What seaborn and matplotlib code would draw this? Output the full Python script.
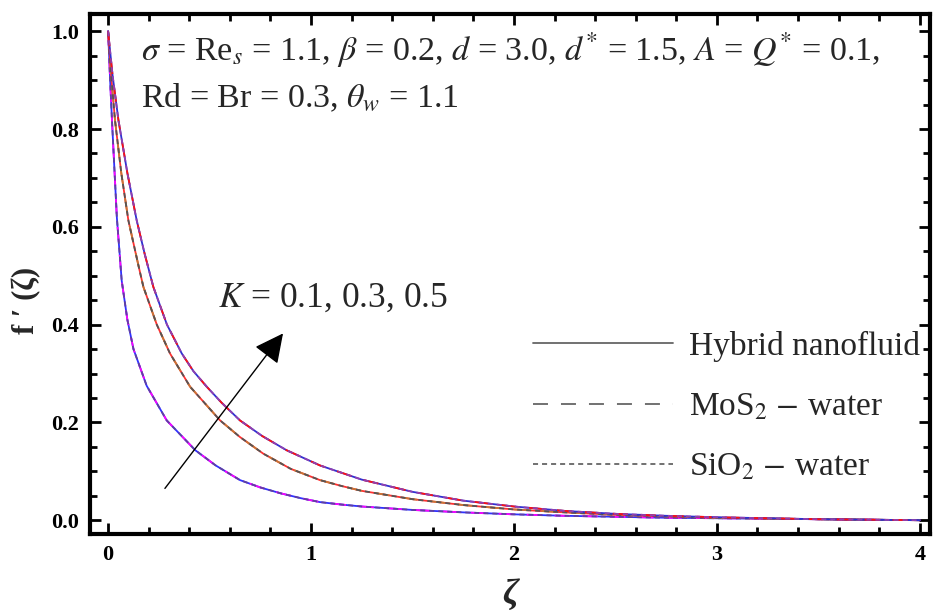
import matplotlib
matplotlib.use("Agg")
import matplotlib.pyplot as plt
from matplotlib.lines import Line2D
from matplotlib.ticker import MultipleLocator, FormatStrFormatter
import seaborn as sns
import pandas as pd

# ---- data ----
zeta_K01 = [0, 0.005, 0.01, 0.02, 0.043, 0.067, 0.095, 0.125, 0.19, 0.289, 0.43, 0.53,
            0.65, 0.75, 0.85, 0.95, 1.044, 1.15, 1.25, 1.5, 1.75, 2.0, 2.25, 2.5, 2.75,
            3.0, 3.5, 4.0]
f_K01 = [1.0, 0.95, 0.90, 0.81, 0.62, 0.49, 0.41, 0.35, 0.275, 0.204, 0.143, 0.112,
         0.082, 0.067, 0.055, 0.045, 0.037, 0.032, 0.028, 0.021, 0.016, 0.012, 0.009,
         0.007, 0.005, 0.004, 0.002, 0.0]

zeta_K03 = [0, 0.015, 0.034, 0.065, 0.10, 0.15, 0.174, 0.24, 0.305, 0.404, 0.552, 0.65,
            0.765, 0.9, 1.044, 1.15, 1.25, 1.5, 1.75, 2.0, 2.25, 2.5, 2.75, 3.0, 3.5, 4.0]
f_K03 = [1.0, 0.91, 0.818, 0.71, 0.613, 0.52, 0.477, 0.40, 0.341, 0.273, 0.204, 0.170,
         0.136, 0.105, 0.082, 0.070, 0.060, 0.043, 0.031, 0.022, 0.016, 0.011, 0.008,
         0.005, 0.002, 0.0]

zeta_K05 = [0, 0.022, 0.051, 0.095, 0.141, 0.18, 0.223, 0.29, 0.363, 0.42, 0.486, 0.56,
            0.65, 0.76, 0.88, 1.044, 1.25, 1.5, 1.75, 2.0, 2.25, 2.5, 2.75, 3.0, 3.5, 4.0]
f_K05 = [1.0, 0.91, 0.818, 0.71, 0.613, 0.545, 0.477, 0.40, 0.341, 0.305, 0.273, 0.24,
         0.204, 0.172, 0.143, 0.112, 0.083, 0.058, 0.040, 0.028, 0.019, 0.013, 0.009,
         0.006, 0.002, 0.0]

K_labels = ["0.1", "0.3", "0.5"]
fluids = ["Hybrid nanofluid", "MoS$_2$ $-$ water", "SiO$_2$ $-$ water"]
x_ticks = [0, 1, 2, 3, 4]
y_ticks = [0.0, 0.2, 0.4, 0.6, 0.8, 1.0]

# colours per K (solid, dashed, dotted)
colors = {
    "0.1": ["#3030ff", "#ff00ff", "#6040a0"],
    "0.3": ["#ff3030", "#c87533", "#555555"],
    "0.5": ["#3030d0", "#ff1010", "#9040b0"],
}
dash_styles = [(None, None), (8.3, 7.2), (2.8, 2.2)]

sns.set_theme(style="ticks")
plt.rcParams["font.family"] = ["Liberation Serif", "DejaVu Serif"]
plt.rcParams["mathtext.fontset"] = "stix"

fig = plt.figure(figsize=(9.34, 6.14), dpi=100)
ax = fig.add_axes([0.0964, 0.130, 0.8993, 0.847])

series = [(K_labels[0], zeta_K01, f_K01), (K_labels[1], zeta_K03, f_K03),
          (K_labels[2], zeta_K05, f_K05)]
lw = 1.3
for k, zz, ff in series:
    df = pd.DataFrame({"zeta": zz, "f": ff})
    for i in range(3):
        sns.lineplot(data=df, x="zeta", y="f", ax=ax, color=colors[k][i],
                     lw=lw, estimator=None, sort=False, legend=False)
        l = ax.lines[-1]
        if dash_styles[i][0] is not None:
            l.set_dashes(dash_styles[i])

ax.set_xlim(-0.089, 4.05)
ax.set_ylim(-0.0286, 1.035)
ax.set_xticks(x_ticks)
ax.set_yticks(y_ticks)
ax.xaxis.set_minor_locator(MultipleLocator(0.2))
ax.yaxis.set_minor_locator(MultipleLocator(0.05))
ax.yaxis.set_major_formatter(FormatStrFormatter("%.1f"))
ax.tick_params(which="both", direction="in", top=True, right=True, width=2, colors="black")
ax.tick_params(which="major", length=8, labelsize=16, pad=8)
ax.tick_params(which="minor", length=5)
for lab in ax.get_xticklabels() + ax.get_yticklabels():
    lab.set_fontweight("bold")
for sp in ax.spines.values():
    sp.set_linewidth(3)
    sp.set_color("black")

ax.set_xlabel("ζ", fontsize=26, fontweight="bold", fontstyle="italic", labelpad=10)
ax.set_ylabel("f \u2032 (ζ)", fontsize=22, fontweight="bold")
ax.yaxis.set_label_coords(-0.058, 0.45)

ax.text(0.16, 0.96, r"$\sigma$ = Re$_s$ = 1.1, $\beta$ = 0.2, $d$ = 3.0, $d^{*}$ = 1.5, $A$ = $Q^{*}$ = 0.1,",
        fontsize=24.5, va="center", ha="left")
ax.text(0.16, 0.863, r"Rd = Br = 0.3, $\theta_w$ = 1.1", fontsize=24.5, va="center", ha="left")

ax.annotate("", xy=(0.862, 0.382), xytext=(0.28, 0.065),
            arrowprops=dict(arrowstyle="-|>,head_length=0.6,head_width=0.3",
                            color="black", lw=1.0, mutation_scale=30, shrinkA=0, shrinkB=0))
ax.text(0.54, 0.454, r"$K$ = 0.1, 0.3, 0.5", fontsize=25.5, va="center", ha="left")

handles = [Line2D([], [], color="#666666", lw=lw, dashes=d) if d[0] is not None
           else Line2D([], [], color="#666666", lw=lw) for d in dash_styles]
ax.legend(handles, fluids, loc="center left", bbox_to_anchor=(0.527, 0.245),
          frameon=False, fontsize=24, handlelength=4.2, handletextpad=0.5,
          labelspacing=0.9, borderpad=0, borderaxespad=0)

fig.savefig("out.png", dpi=100)
